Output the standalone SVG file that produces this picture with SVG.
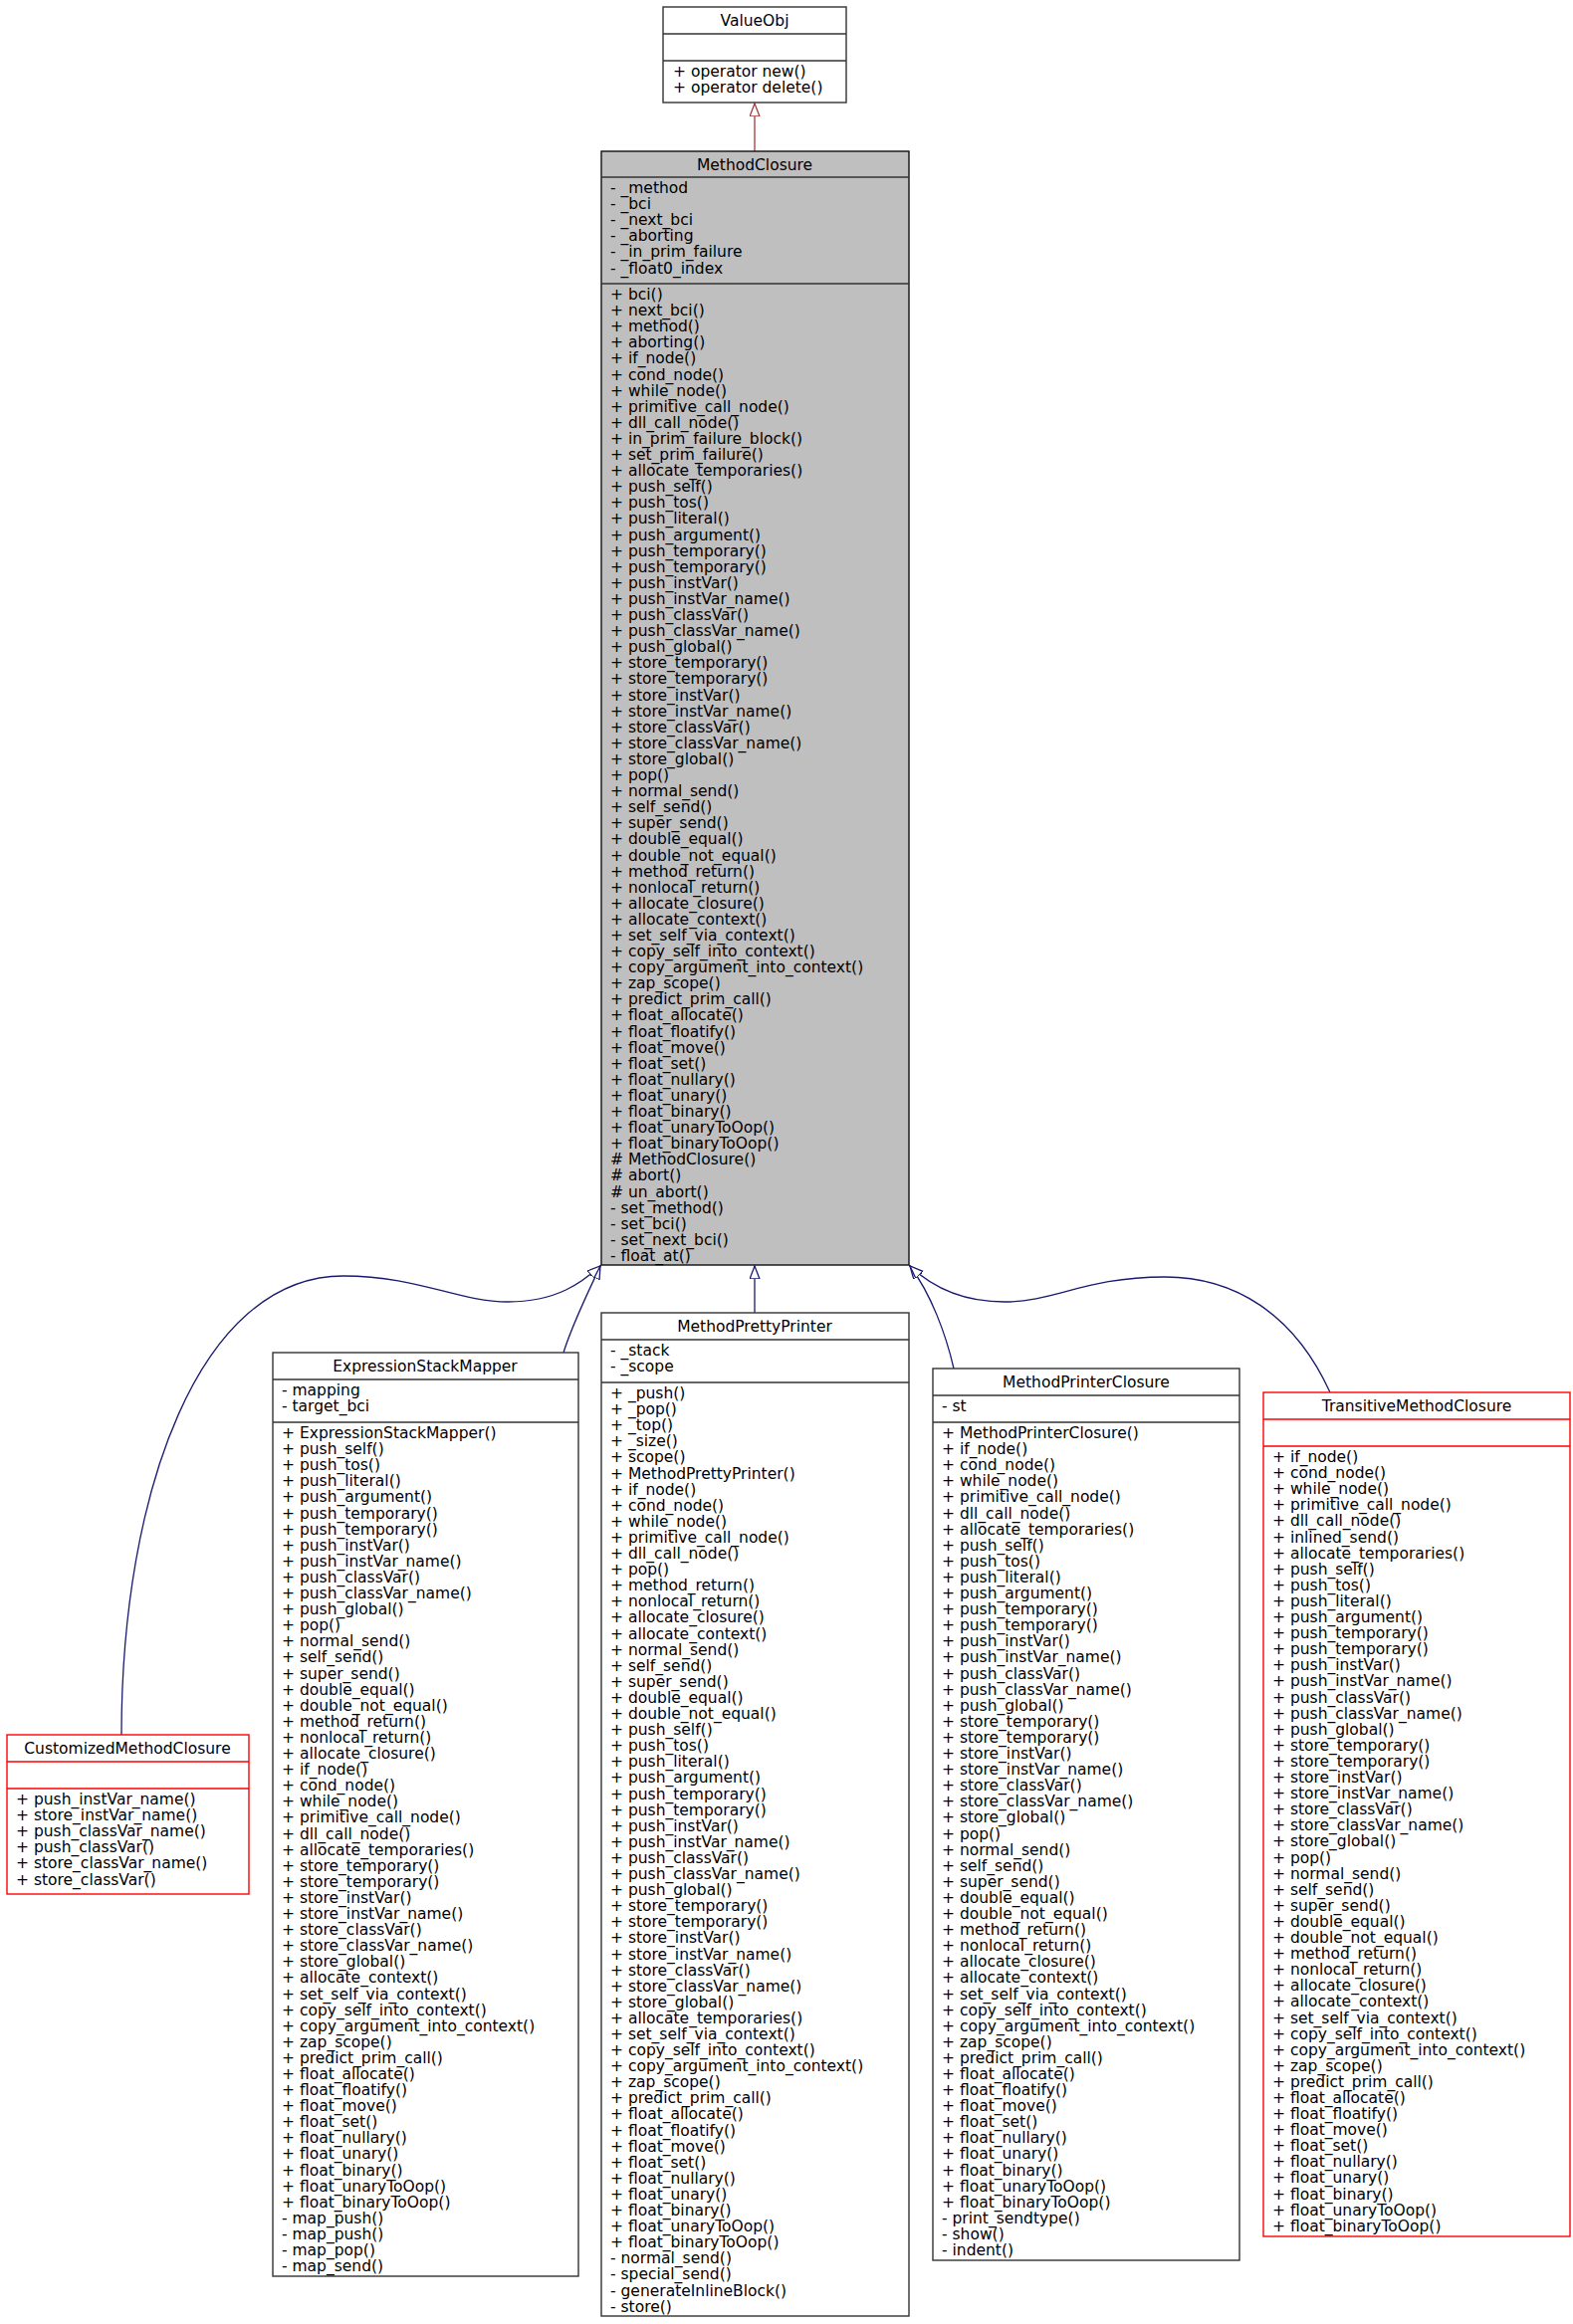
<svg xmlns="http://www.w3.org/2000/svg" width="1580" height="2335" viewBox="0 0 1580 2335">
<style>
text{font-family:"DejaVu Sans","Liberation Sans",sans-serif;font-size:15.5px;fill:#000}
.h{text-anchor:middle}
.box{fill:#fff;stroke:#333;stroke-width:1.4}
.red{fill:#fff;stroke:#f00;stroke-width:1.4}
.gray{fill:#bfbfbf;stroke:#111;stroke-width:1.4}
.sep{stroke:#333;stroke-width:1.4}
.sepr{stroke:#f00;stroke-width:1.4}
.e{fill:none;stroke:#191970;stroke-width:1.3;marker-end:url(#tb)}
.er{fill:none;stroke:#a33a3a;stroke-width:1.3;marker-end:url(#tr)}
</style>
<defs>
<marker id="tb" markerUnits="userSpaceOnUse" markerWidth="16" markerHeight="12" refX="13" refY="5" orient="auto"><path d="M0,0 L13,5 L0,10 z" fill="#fff" stroke="#191970" stroke-width="1.3"/></marker>
<marker id="tr" markerUnits="userSpaceOnUse" markerWidth="16" markerHeight="12" refX="13" refY="5" orient="auto"><path d="M0,0 L13,5 L0,10 z" fill="#fff" stroke="#a33a3a" stroke-width="1.3"/></marker>
</defs>
<g id="connectors">
<path class="er" d="M758,152 L758,104"/>
<path class="e" d="M758,1319 L758,1272"/>
<path class="e" d="M566,1359 C575,1330 590,1300 603,1272"/>
<path class="e" d="M122,1743 C122,1500 200,1282 345,1282 C420,1282 460,1308 510,1308 C560,1308 585,1288 603,1272"/>
<path class="e" d="M958,1375 C950,1340 935,1300 914,1272"/>
<path class="e" d="M1336,1399 C1300,1320 1240,1283 1170,1283 C1090,1283 1060,1308 1009,1308 C965,1308 935,1292 914,1272"/>
</g>
<g id="ValueObj">
<rect class="box" x="666" y="7" width="184" height="96"/>
<line class="sep" x1="666" y1="34" x2="850" y2="34"/><line class="sep" x1="666" y1="61" x2="850" y2="61"/>
<text class="h" x="758" y="26">ValueObj</text>
<text x="676" y="77">+ operator new()<tspan x="676" dy="16.1">+ operator delete()</tspan></text>
</g>
<g id="MethodClosure">
<rect class="gray" x="604" y="152" width="309" height="1119"/>
<line class="sep" x1="604" y1="178" x2="913" y2="178"/><line class="sep" x1="604" y1="285" x2="913" y2="285"/>
<text class="h" x="758" y="171">MethodClosure</text>
<text x="613" y="194">- _method<tspan x="613" dy="16.1">- _bci</tspan><tspan x="613" dy="16.1">- _next_bci</tspan><tspan x="613" dy="16.1">- _aborting</tspan><tspan x="613" dy="16.1">- _in_prim_failure</tspan><tspan x="613" dy="16.1">- _float0_index</tspan></text>
<text x="613" y="301">+ bci()<tspan x="613" dy="16.1">+ next_bci()</tspan><tspan x="613" dy="16.1">+ method()</tspan><tspan x="613" dy="16.1">+ aborting()</tspan><tspan x="613" dy="16.1">+ if_node()</tspan><tspan x="613" dy="16.1">+ cond_node()</tspan><tspan x="613" dy="16.1">+ while_node()</tspan><tspan x="613" dy="16.1">+ primitive_call_node()</tspan><tspan x="613" dy="16.1">+ dll_call_node()</tspan><tspan x="613" dy="16.1">+ in_prim_failure_block()</tspan><tspan x="613" dy="16.1">+ set_prim_failure()</tspan><tspan x="613" dy="16.1">+ allocate_temporaries()</tspan><tspan x="613" dy="16.1">+ push_self()</tspan><tspan x="613" dy="16.1">+ push_tos()</tspan><tspan x="613" dy="16.1">+ push_literal()</tspan><tspan x="613" dy="16.1">+ push_argument()</tspan><tspan x="613" dy="16.1">+ push_temporary()</tspan><tspan x="613" dy="16.1">+ push_temporary()</tspan><tspan x="613" dy="16.1">+ push_instVar()</tspan><tspan x="613" dy="16.1">+ push_instVar_name()</tspan><tspan x="613" dy="16.1">+ push_classVar()</tspan><tspan x="613" dy="16.1">+ push_classVar_name()</tspan><tspan x="613" dy="16.1">+ push_global()</tspan><tspan x="613" dy="16.1">+ store_temporary()</tspan><tspan x="613" dy="16.1">+ store_temporary()</tspan><tspan x="613" dy="16.1">+ store_instVar()</tspan><tspan x="613" dy="16.1">+ store_instVar_name()</tspan><tspan x="613" dy="16.1">+ store_classVar()</tspan><tspan x="613" dy="16.1">+ store_classVar_name()</tspan><tspan x="613" dy="16.1">+ store_global()</tspan><tspan x="613" dy="16.1">+ pop()</tspan><tspan x="613" dy="16.1">+ normal_send()</tspan><tspan x="613" dy="16.1">+ self_send()</tspan><tspan x="613" dy="16.1">+ super_send()</tspan><tspan x="613" dy="16.1">+ double_equal()</tspan><tspan x="613" dy="16.1">+ double_not_equal()</tspan><tspan x="613" dy="16.1">+ method_return()</tspan><tspan x="613" dy="16.1">+ nonlocal_return()</tspan><tspan x="613" dy="16.1">+ allocate_closure()</tspan><tspan x="613" dy="16.1">+ allocate_context()</tspan><tspan x="613" dy="16.1">+ set_self_via_context()</tspan><tspan x="613" dy="16.1">+ copy_self_into_context()</tspan><tspan x="613" dy="16.1">+ copy_argument_into_context()</tspan><tspan x="613" dy="16.1">+ zap_scope()</tspan><tspan x="613" dy="16.1">+ predict_prim_call()</tspan><tspan x="613" dy="16.1">+ float_allocate()</tspan><tspan x="613" dy="16.1">+ float_floatify()</tspan><tspan x="613" dy="16.1">+ float_move()</tspan><tspan x="613" dy="16.1">+ float_set()</tspan><tspan x="613" dy="16.1">+ float_nullary()</tspan><tspan x="613" dy="16.1">+ float_unary()</tspan><tspan x="613" dy="16.1">+ float_binary()</tspan><tspan x="613" dy="16.1">+ float_unaryToOop()</tspan><tspan x="613" dy="16.1">+ float_binaryToOop()</tspan><tspan x="613" dy="16.1"># MethodClosure()</tspan><tspan x="613" dy="16.1"># abort()</tspan><tspan x="613" dy="16.1"># un_abort()</tspan><tspan x="613" dy="16.1">- set_method()</tspan><tspan x="613" dy="16.1">- set_bci()</tspan><tspan x="613" dy="16.1">- set_next_bci()</tspan><tspan x="613" dy="16.1">- float_at()</tspan></text>
</g>
<g id="CustomizedMethodClosure">
<rect class="red" x="7" y="1743" width="243" height="160"/>
<line class="sepr" x1="7" y1="1770" x2="250" y2="1770"/><line class="sepr" x1="7" y1="1797" x2="250" y2="1797"/>
<text class="h" x="128" y="1762">CustomizedMethodClosure</text>
<text x="16" y="1813">+ push_instVar_name()<tspan x="16" dy="16.1">+ store_instVar_name()</tspan><tspan x="16" dy="16.1">+ push_classVar_name()</tspan><tspan x="16" dy="16.1">+ push_classVar()</tspan><tspan x="16" dy="16.1">+ store_classVar_name()</tspan><tspan x="16" dy="16.1">+ store_classVar()</tspan></text>
</g>
<g id="ExpressionStackMapper">
<rect class="box" x="274" y="1359" width="307" height="928"/>
<line class="sep" x1="274" y1="1386" x2="581" y2="1386"/><line class="sep" x1="274" y1="1429" x2="581" y2="1429"/>
<text class="h" x="427" y="1378">ExpressionStackMapper</text>
<text x="283" y="1402">- mapping<tspan x="283" dy="16.1">- target_bci</tspan></text>
<text x="283" y="1445">+ ExpressionStackMapper()<tspan x="283" dy="16.1">+ push_self()</tspan><tspan x="283" dy="16.1">+ push_tos()</tspan><tspan x="283" dy="16.1">+ push_literal()</tspan><tspan x="283" dy="16.1">+ push_argument()</tspan><tspan x="283" dy="16.1">+ push_temporary()</tspan><tspan x="283" dy="16.1">+ push_temporary()</tspan><tspan x="283" dy="16.1">+ push_instVar()</tspan><tspan x="283" dy="16.1">+ push_instVar_name()</tspan><tspan x="283" dy="16.1">+ push_classVar()</tspan><tspan x="283" dy="16.1">+ push_classVar_name()</tspan><tspan x="283" dy="16.1">+ push_global()</tspan><tspan x="283" dy="16.1">+ pop()</tspan><tspan x="283" dy="16.1">+ normal_send()</tspan><tspan x="283" dy="16.1">+ self_send()</tspan><tspan x="283" dy="16.1">+ super_send()</tspan><tspan x="283" dy="16.1">+ double_equal()</tspan><tspan x="283" dy="16.1">+ double_not_equal()</tspan><tspan x="283" dy="16.1">+ method_return()</tspan><tspan x="283" dy="16.1">+ nonlocal_return()</tspan><tspan x="283" dy="16.1">+ allocate_closure()</tspan><tspan x="283" dy="16.1">+ if_node()</tspan><tspan x="283" dy="16.1">+ cond_node()</tspan><tspan x="283" dy="16.1">+ while_node()</tspan><tspan x="283" dy="16.1">+ primitive_call_node()</tspan><tspan x="283" dy="16.1">+ dll_call_node()</tspan><tspan x="283" dy="16.1">+ allocate_temporaries()</tspan><tspan x="283" dy="16.1">+ store_temporary()</tspan><tspan x="283" dy="16.1">+ store_temporary()</tspan><tspan x="283" dy="16.1">+ store_instVar()</tspan><tspan x="283" dy="16.1">+ store_instVar_name()</tspan><tspan x="283" dy="16.1">+ store_classVar()</tspan><tspan x="283" dy="16.1">+ store_classVar_name()</tspan><tspan x="283" dy="16.1">+ store_global()</tspan><tspan x="283" dy="16.1">+ allocate_context()</tspan><tspan x="283" dy="16.1">+ set_self_via_context()</tspan><tspan x="283" dy="16.1">+ copy_self_into_context()</tspan><tspan x="283" dy="16.1">+ copy_argument_into_context()</tspan><tspan x="283" dy="16.1">+ zap_scope()</tspan><tspan x="283" dy="16.1">+ predict_prim_call()</tspan><tspan x="283" dy="16.1">+ float_allocate()</tspan><tspan x="283" dy="16.1">+ float_floatify()</tspan><tspan x="283" dy="16.1">+ float_move()</tspan><tspan x="283" dy="16.1">+ float_set()</tspan><tspan x="283" dy="16.1">+ float_nullary()</tspan><tspan x="283" dy="16.1">+ float_unary()</tspan><tspan x="283" dy="16.1">+ float_binary()</tspan><tspan x="283" dy="16.1">+ float_unaryToOop()</tspan><tspan x="283" dy="16.1">+ float_binaryToOop()</tspan><tspan x="283" dy="16.1">- map_push()</tspan><tspan x="283" dy="16.1">- map_push()</tspan><tspan x="283" dy="16.1">- map_pop()</tspan><tspan x="283" dy="16.1">- map_send()</tspan></text>
</g>
<g id="MethodPrettyPrinter">
<rect class="box" x="604" y="1319" width="309" height="1008"/>
<line class="sep" x1="604" y1="1346" x2="913" y2="1346"/><line class="sep" x1="604" y1="1389" x2="913" y2="1389"/>
<text class="h" x="758" y="1338">MethodPrettyPrinter</text>
<text x="613" y="1362">- _stack<tspan x="613" dy="16.1">- _scope</tspan></text>
<text x="613" y="1405">+ _push()<tspan x="613" dy="16.1">+ _pop()</tspan><tspan x="613" dy="16.1">+ _top()</tspan><tspan x="613" dy="16.1">+ _size()</tspan><tspan x="613" dy="16.1">+ scope()</tspan><tspan x="613" dy="16.1">+ MethodPrettyPrinter()</tspan><tspan x="613" dy="16.1">+ if_node()</tspan><tspan x="613" dy="16.1">+ cond_node()</tspan><tspan x="613" dy="16.1">+ while_node()</tspan><tspan x="613" dy="16.1">+ primitive_call_node()</tspan><tspan x="613" dy="16.1">+ dll_call_node()</tspan><tspan x="613" dy="16.1">+ pop()</tspan><tspan x="613" dy="16.1">+ method_return()</tspan><tspan x="613" dy="16.1">+ nonlocal_return()</tspan><tspan x="613" dy="16.1">+ allocate_closure()</tspan><tspan x="613" dy="16.1">+ allocate_context()</tspan><tspan x="613" dy="16.1">+ normal_send()</tspan><tspan x="613" dy="16.1">+ self_send()</tspan><tspan x="613" dy="16.1">+ super_send()</tspan><tspan x="613" dy="16.1">+ double_equal()</tspan><tspan x="613" dy="16.1">+ double_not_equal()</tspan><tspan x="613" dy="16.1">+ push_self()</tspan><tspan x="613" dy="16.1">+ push_tos()</tspan><tspan x="613" dy="16.1">+ push_literal()</tspan><tspan x="613" dy="16.1">+ push_argument()</tspan><tspan x="613" dy="16.1">+ push_temporary()</tspan><tspan x="613" dy="16.1">+ push_temporary()</tspan><tspan x="613" dy="16.1">+ push_instVar()</tspan><tspan x="613" dy="16.1">+ push_instVar_name()</tspan><tspan x="613" dy="16.1">+ push_classVar()</tspan><tspan x="613" dy="16.1">+ push_classVar_name()</tspan><tspan x="613" dy="16.1">+ push_global()</tspan><tspan x="613" dy="16.1">+ store_temporary()</tspan><tspan x="613" dy="16.1">+ store_temporary()</tspan><tspan x="613" dy="16.1">+ store_instVar()</tspan><tspan x="613" dy="16.1">+ store_instVar_name()</tspan><tspan x="613" dy="16.1">+ store_classVar()</tspan><tspan x="613" dy="16.1">+ store_classVar_name()</tspan><tspan x="613" dy="16.1">+ store_global()</tspan><tspan x="613" dy="16.1">+ allocate_temporaries()</tspan><tspan x="613" dy="16.1">+ set_self_via_context()</tspan><tspan x="613" dy="16.1">+ copy_self_into_context()</tspan><tspan x="613" dy="16.1">+ copy_argument_into_context()</tspan><tspan x="613" dy="16.1">+ zap_scope()</tspan><tspan x="613" dy="16.1">+ predict_prim_call()</tspan><tspan x="613" dy="16.1">+ float_allocate()</tspan><tspan x="613" dy="16.1">+ float_floatify()</tspan><tspan x="613" dy="16.1">+ float_move()</tspan><tspan x="613" dy="16.1">+ float_set()</tspan><tspan x="613" dy="16.1">+ float_nullary()</tspan><tspan x="613" dy="16.1">+ float_unary()</tspan><tspan x="613" dy="16.1">+ float_binary()</tspan><tspan x="613" dy="16.1">+ float_unaryToOop()</tspan><tspan x="613" dy="16.1">+ float_binaryToOop()</tspan><tspan x="613" dy="16.1">- normal_send()</tspan><tspan x="613" dy="16.1">- special_send()</tspan><tspan x="613" dy="16.1">- generateInlineBlock()</tspan><tspan x="613" dy="16.1">- store()</tspan></text>
</g>
<g id="MethodPrinterClosure">
<rect class="box" x="937" y="1375" width="308" height="896"/>
<line class="sep" x1="937" y1="1402" x2="1245" y2="1402"/><line class="sep" x1="937" y1="1429" x2="1245" y2="1429"/>
<text class="h" x="1091" y="1394">MethodPrinterClosure</text>
<text x="946" y="1418">- st</text>
<text x="946" y="1445">+ MethodPrinterClosure()<tspan x="946" dy="16.1">+ if_node()</tspan><tspan x="946" dy="16.1">+ cond_node()</tspan><tspan x="946" dy="16.1">+ while_node()</tspan><tspan x="946" dy="16.1">+ primitive_call_node()</tspan><tspan x="946" dy="16.1">+ dll_call_node()</tspan><tspan x="946" dy="16.1">+ allocate_temporaries()</tspan><tspan x="946" dy="16.1">+ push_self()</tspan><tspan x="946" dy="16.1">+ push_tos()</tspan><tspan x="946" dy="16.1">+ push_literal()</tspan><tspan x="946" dy="16.1">+ push_argument()</tspan><tspan x="946" dy="16.1">+ push_temporary()</tspan><tspan x="946" dy="16.1">+ push_temporary()</tspan><tspan x="946" dy="16.1">+ push_instVar()</tspan><tspan x="946" dy="16.1">+ push_instVar_name()</tspan><tspan x="946" dy="16.1">+ push_classVar()</tspan><tspan x="946" dy="16.1">+ push_classVar_name()</tspan><tspan x="946" dy="16.1">+ push_global()</tspan><tspan x="946" dy="16.1">+ store_temporary()</tspan><tspan x="946" dy="16.1">+ store_temporary()</tspan><tspan x="946" dy="16.1">+ store_instVar()</tspan><tspan x="946" dy="16.1">+ store_instVar_name()</tspan><tspan x="946" dy="16.1">+ store_classVar()</tspan><tspan x="946" dy="16.1">+ store_classVar_name()</tspan><tspan x="946" dy="16.1">+ store_global()</tspan><tspan x="946" dy="16.1">+ pop()</tspan><tspan x="946" dy="16.1">+ normal_send()</tspan><tspan x="946" dy="16.1">+ self_send()</tspan><tspan x="946" dy="16.1">+ super_send()</tspan><tspan x="946" dy="16.1">+ double_equal()</tspan><tspan x="946" dy="16.1">+ double_not_equal()</tspan><tspan x="946" dy="16.1">+ method_return()</tspan><tspan x="946" dy="16.1">+ nonlocal_return()</tspan><tspan x="946" dy="16.1">+ allocate_closure()</tspan><tspan x="946" dy="16.1">+ allocate_context()</tspan><tspan x="946" dy="16.1">+ set_self_via_context()</tspan><tspan x="946" dy="16.1">+ copy_self_into_context()</tspan><tspan x="946" dy="16.1">+ copy_argument_into_context()</tspan><tspan x="946" dy="16.1">+ zap_scope()</tspan><tspan x="946" dy="16.1">+ predict_prim_call()</tspan><tspan x="946" dy="16.1">+ float_allocate()</tspan><tspan x="946" dy="16.1">+ float_floatify()</tspan><tspan x="946" dy="16.1">+ float_move()</tspan><tspan x="946" dy="16.1">+ float_set()</tspan><tspan x="946" dy="16.1">+ float_nullary()</tspan><tspan x="946" dy="16.1">+ float_unary()</tspan><tspan x="946" dy="16.1">+ float_binary()</tspan><tspan x="946" dy="16.1">+ float_unaryToOop()</tspan><tspan x="946" dy="16.1">+ float_binaryToOop()</tspan><tspan x="946" dy="16.1">- print_sendtype()</tspan><tspan x="946" dy="16.1">- show()</tspan><tspan x="946" dy="16.1">- indent()</tspan></text>
</g>
<g id="TransitiveMethodClosure">
<rect class="red" x="1269" y="1399" width="308" height="848"/>
<line class="sepr" x1="1269" y1="1426" x2="1577" y2="1426"/><line class="sepr" x1="1269" y1="1453" x2="1577" y2="1453"/>
<text class="h" x="1423" y="1418">TransitiveMethodClosure</text>
<text x="1278" y="1469">+ if_node()<tspan x="1278" dy="16.1">+ cond_node()</tspan><tspan x="1278" dy="16.1">+ while_node()</tspan><tspan x="1278" dy="16.1">+ primitive_call_node()</tspan><tspan x="1278" dy="16.1">+ dll_call_node()</tspan><tspan x="1278" dy="16.1">+ inlined_send()</tspan><tspan x="1278" dy="16.1">+ allocate_temporaries()</tspan><tspan x="1278" dy="16.1">+ push_self()</tspan><tspan x="1278" dy="16.1">+ push_tos()</tspan><tspan x="1278" dy="16.1">+ push_literal()</tspan><tspan x="1278" dy="16.1">+ push_argument()</tspan><tspan x="1278" dy="16.1">+ push_temporary()</tspan><tspan x="1278" dy="16.1">+ push_temporary()</tspan><tspan x="1278" dy="16.1">+ push_instVar()</tspan><tspan x="1278" dy="16.1">+ push_instVar_name()</tspan><tspan x="1278" dy="16.1">+ push_classVar()</tspan><tspan x="1278" dy="16.1">+ push_classVar_name()</tspan><tspan x="1278" dy="16.1">+ push_global()</tspan><tspan x="1278" dy="16.1">+ store_temporary()</tspan><tspan x="1278" dy="16.1">+ store_temporary()</tspan><tspan x="1278" dy="16.1">+ store_instVar()</tspan><tspan x="1278" dy="16.1">+ store_instVar_name()</tspan><tspan x="1278" dy="16.1">+ store_classVar()</tspan><tspan x="1278" dy="16.1">+ store_classVar_name()</tspan><tspan x="1278" dy="16.1">+ store_global()</tspan><tspan x="1278" dy="16.1">+ pop()</tspan><tspan x="1278" dy="16.1">+ normal_send()</tspan><tspan x="1278" dy="16.1">+ self_send()</tspan><tspan x="1278" dy="16.1">+ super_send()</tspan><tspan x="1278" dy="16.1">+ double_equal()</tspan><tspan x="1278" dy="16.1">+ double_not_equal()</tspan><tspan x="1278" dy="16.1">+ method_return()</tspan><tspan x="1278" dy="16.1">+ nonlocal_return()</tspan><tspan x="1278" dy="16.1">+ allocate_closure()</tspan><tspan x="1278" dy="16.1">+ allocate_context()</tspan><tspan x="1278" dy="16.1">+ set_self_via_context()</tspan><tspan x="1278" dy="16.1">+ copy_self_into_context()</tspan><tspan x="1278" dy="16.1">+ copy_argument_into_context()</tspan><tspan x="1278" dy="16.1">+ zap_scope()</tspan><tspan x="1278" dy="16.1">+ predict_prim_call()</tspan><tspan x="1278" dy="16.1">+ float_allocate()</tspan><tspan x="1278" dy="16.1">+ float_floatify()</tspan><tspan x="1278" dy="16.1">+ float_move()</tspan><tspan x="1278" dy="16.1">+ float_set()</tspan><tspan x="1278" dy="16.1">+ float_nullary()</tspan><tspan x="1278" dy="16.1">+ float_unary()</tspan><tspan x="1278" dy="16.1">+ float_binary()</tspan><tspan x="1278" dy="16.1">+ float_unaryToOop()</tspan><tspan x="1278" dy="16.1">+ float_binaryToOop()</tspan></text>
</g>
</svg>
